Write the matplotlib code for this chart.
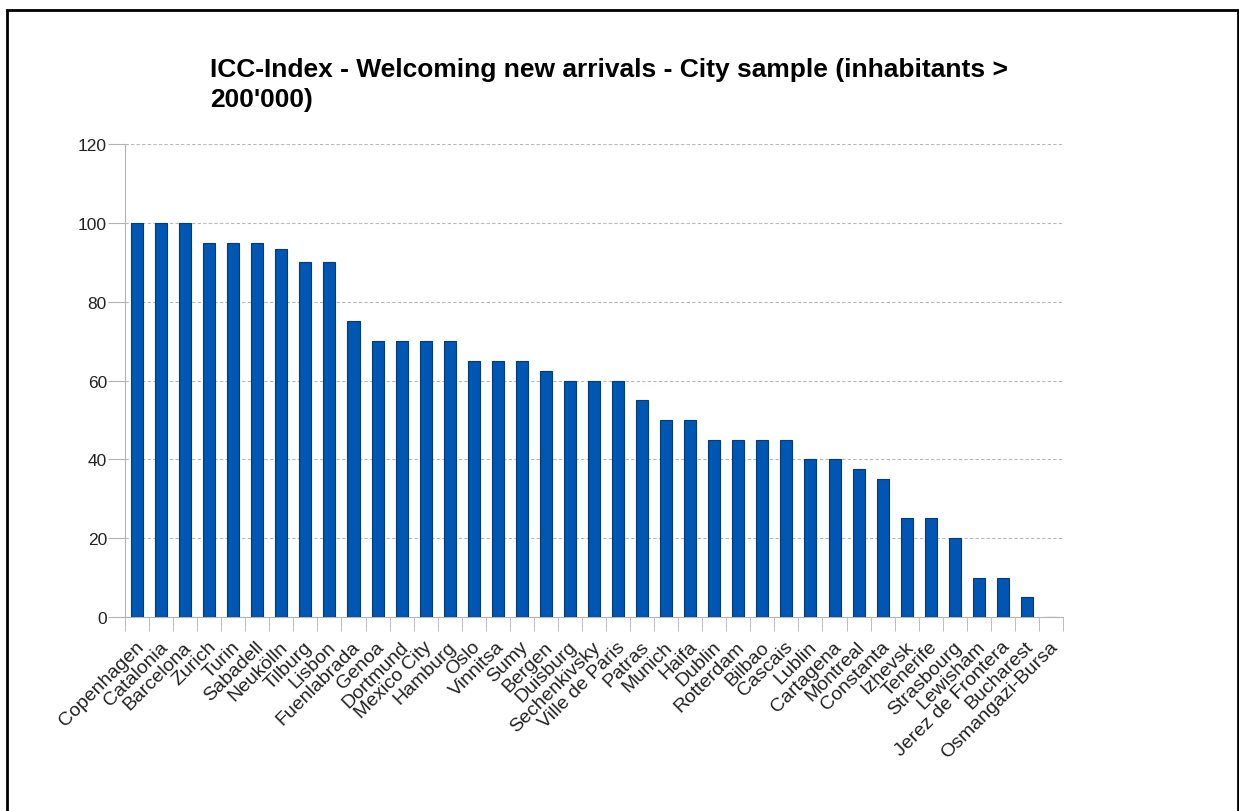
import matplotlib
matplotlib.use('Agg')
import matplotlib.pyplot as plt
from matplotlib.patches import Rectangle
from matplotlib.transforms import ScaledTranslation

plt.rcParams['font.family'] = ['Liberation Sans', 'DejaVu Sans']

cities = ['Copenhagen', 'Catalonia', 'Barcelona', 'Zurich', 'Turin', 'Sabadell',
          'Neukölln', 'Tilburg', 'Lisbon', 'Fuenlabrada', 'Genoa', 'Dortmund',
          'Mexico City', 'Hamburg', 'Oslo', 'Vinnitsa', 'Sumy', 'Bergen',
          'Duisburg', 'Sechenkivsky', 'Ville de Paris', 'Patras', 'Munich',
          'Haifa', 'Dublin', 'Rotterdam', 'Bilbao', 'Cascais', 'Lublin',
          'Cartagena', 'Montreal', 'Constanta', 'Izhevsk', 'Tenerife',
          'Strasbourg', 'Lewisham', 'Jerez de Frontera', 'Bucharest',
          'Osmangazi-Bursa']
scores = [100, 100, 100, 95, 95, 95, 93.3, 90, 90, 75, 70, 70, 70, 70, 65, 65,
          65, 62.5, 60, 60, 60, 55, 50, 50, 45, 45, 45, 45, 40, 40, 37.5, 35,
          25, 25, 20, 10, 10, 5, 0]
yticks = [0, 20, 40, 60, 80, 100, 120]

fig = plt.figure(figsize=(12.39, 8.12), dpi=100)
ax = fig.add_axes([125 / 1239, 1 - 618 / 812, (1063 - 125) / 1239, (618 - 145) / 812])

x = range(len(cities))
ax.bar(x, scores, width=0.5, color='#0056b3', edgecolor='#003b7a', linewidth=0.8, zorder=3)

ax.set_xlim(-0.5, len(cities) - 0.5)
ax.set_ylim(0, 120)
ax.set_yticks(yticks)
ax.tick_params(axis='y', length=12, color='#b3b3b3', labelsize=12.5, labelcolor='#222222', pad=1)
ax.yaxis.grid(True, linestyle=(0, (3, 2)), color='#b8b8b8', linewidth=0.8, zorder=0)

# category labels at bar centres, tick marks on the boundaries between bars
ax.set_xticks(list(x))
ax.set_xticklabels(cities, rotation=45, ha='right', rotation_mode='anchor',
                   fontsize=14, color='#222222')
ax.tick_params(axis='x', which='major', length=0, pad=15)
shift = ScaledTranslation(-2 / 100, 0, fig.dpi_scale_trans)
for lbl in ax.get_xticklabels():
    lbl.set_transform(lbl.get_transform() + shift)
ax.set_xticks([i - 0.5 for i in range(len(cities) + 1)], minor=True)
ax.tick_params(axis='x', which='minor', length=10, color='#b3b3b3')

for side in ['top', 'right']:
    ax.spines[side].set_visible(False)
for side in ['left', 'bottom']:
    ax.spines[side].set_color('#b3b3b3')

fig.text(210 / 1239, 1 - 58 / 812,
         "ICC-Index - Welcoming new arrivals - City sample (inhabitants >\n200'000)",
         fontsize=19, fontweight='bold', ha='left', va='top', linespacing=1.3)

# outer frame
fig.patches.append(Rectangle((7 / 1239, -0.05), (1238 - 7) / 1239, 1.05 - 11 / 812,
                             transform=fig.transFigure, fill=False,
                             edgecolor='black', linewidth=2))

fig.savefig('out.png', dpi=100)
